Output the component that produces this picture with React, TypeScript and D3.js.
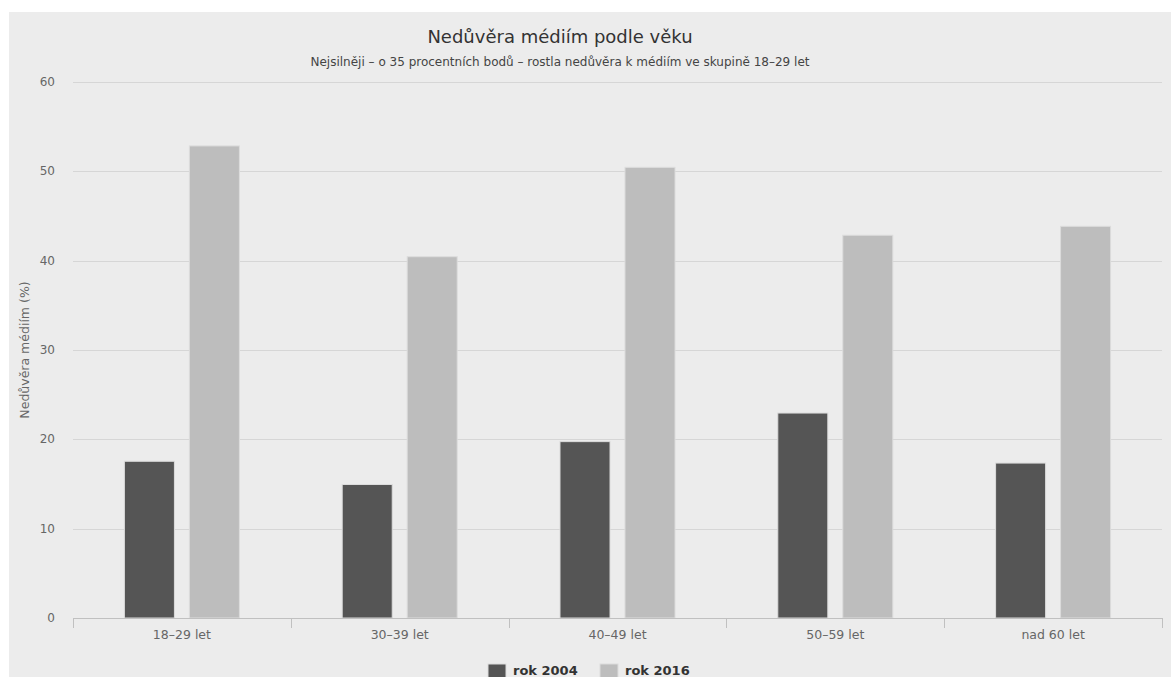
import React from "react";
import * as d3 from "d3";

const categories = ["18–29 let", "30–39 let", "40–49 let", "50–59 let", "nad 60 let"];
const seriesNames = ["rok 2004", "rok 2016"];
const values2004 = [17.6, 15.0, 19.8, 23.0, 17.4];
const values2016 = [52.9, 40.5, 50.5, 42.9, 43.9];
const yTicks = [0, 10, 20, 30, 40, 50, 60];
const seriesColors = ["#555555", "#bdbdbd"];

const W = 1171;
const H = 677;
const FONT = "'DejaVu Sans', 'Lucida Grande', sans-serif";

export default function App() {
  const plot = { left: 73, right: 1162, top: 82, bottom: 618 };
  const y = d3.scaleLinear().domain([0, 60]).range([plot.bottom, plot.top]);
  const x0 = d3.scaleBand<string>().domain(categories).range([plot.left, plot.right]);
  const x1 = d3
    .scaleBand<string>()
    .domain(seriesNames)
    .range([0, x0.bandwidth()])
    .paddingInner(0.215)
    .paddingOuter(0.783);
  const series = [values2004, values2016];

  const tickXs = categories.map((c) => x0(c) as number).concat([plot.right]);

  return (
    <svg
      width={W}
      height={H}
      style={{ position: "absolute", left: 0, top: 0, display: "block" }}
      fontFamily={FONT}
    >
      <rect x={0} y={0} width={W} height={H} fill="#ffffff" />
      <rect x={9} y={12} width={W - 9} height={H - 12} fill="#ececec" />

      {/* gridlines */}
      {yTicks.slice(1).map((t) => (
        <line
          key={t}
          x1={plot.left}
          x2={plot.right}
          y1={Math.round(y(t)) + 0.5}
          y2={Math.round(y(t)) + 0.5}
          stroke="#d6d6d6"
          strokeWidth={1}
        />
      ))}

      {/* y tick labels */}
      {yTicks.map((t) => (
        <text
          key={t}
          x={55}
          y={y(t) + 4}
          textAnchor="end"
          fontSize={12}
          fill="#666666"
        >
          {t}
        </text>
      ))}

      {/* y-axis title */}
      <text
        transform={`translate(29, ${(plot.top + plot.bottom) / 2}) rotate(-90)`}
        textAnchor="middle"
        fontSize={12.5}
        fill="#666666"
      >
        Nedůvěra médiím (%)
      </text>

      {/* bars */}
      {series.map((vals, si) =>
        categories.map((c, ci) => {
          const bx = (x0(c) as number) + (x1(seriesNames[si]) as number);
          const by = y(vals[ci]);
          return (
            <rect
              key={`${si}-${ci}`}
              x={bx + 0.5}
              y={by + 0.5}
              width={x1.bandwidth() - 1}
              height={plot.bottom - by - 0.5}
              fill={seriesColors[si]}
              stroke="#dcdcdc"
              strokeWidth={1}
            />
          );
        })
      )}

      {/* x axis */}
      <line
        x1={plot.left}
        x2={plot.right}
        y1={plot.bottom + 0.5}
        y2={plot.bottom + 0.5}
        stroke="#c0c0c0"
        strokeWidth={1}
      />
      {tickXs.map((tx, i) => (
        <line
          key={i}
          x1={Math.round(tx) + 0.5}
          x2={Math.round(tx) + 0.5}
          y1={plot.bottom}
          y2={plot.bottom + 10}
          stroke="#c0c0c0"
          strokeWidth={1}
        />
      ))}
      {categories.map((c) => (
        <text
          key={c}
          x={(x0(c) as number) + x0.bandwidth() / 2}
          y={639}
          textAnchor="middle"
          fontSize={12.5}
          fill="#666666"
        >
          {c}
        </text>
      ))}

      {/* title and subtitle */}
      <text x={560} y={43} textAnchor="middle" fontSize={18} fill="#333333">
        Nedůvěra médiím podle věku
      </text>
      <text x={560} y={66} textAnchor="middle" fontSize={12} fill="#444444">
        Nejsilněji – o 35 procentních bodů – rostla nedůvěra k médiím ve skupině 18–29 let
      </text>

      {/* legend */}
      {seriesNames.map((s, i) => {
        const lx = i === 0 ? 488 : 600;
        return (
          <g key={s}>
            <rect x={lx} y={664} width={18} height={18} fill={seriesColors[i]} stroke="#dcdcdc" strokeWidth={1} />
            <text x={lx + 25} y={675} fontSize={13} fontWeight="bold" fill="#333333">
              {s}
            </text>
          </g>
        );
      })}
    </svg>
  );
}
